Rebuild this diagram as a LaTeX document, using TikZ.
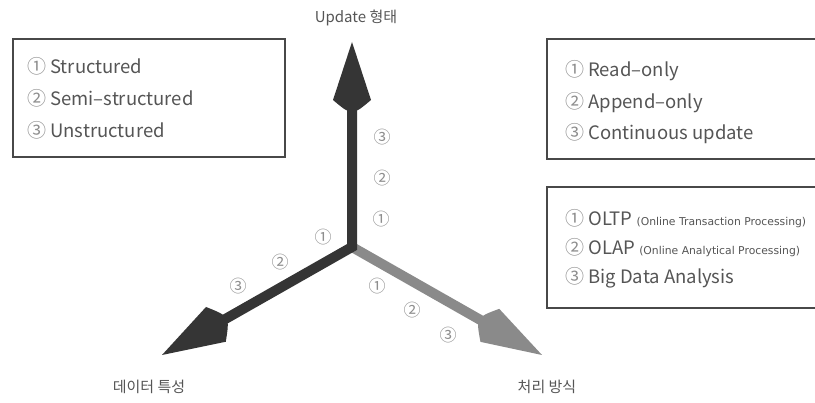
\documentclass[tikz,border=0pt]{standalone}
\usepackage{fontspec}
\setmainfont{Noto Sans CJK KR}
\newfontfamily\notefont{DejaVu Sans}
\usetikzlibrary{calc}

\definecolor{framegray}{HTML}{484848}
\definecolor{txtgray}{HTML}{555555}
\definecolor{numgray}{HTML}{8E8E8E}
\definecolor{axisdark}{HTML}{353535}
\definecolor{axislight}{HTML}{8A8A8A}

\newcommand{\circnum}[1]{{\fontsize{19}{19}\selectfont\color{numgray}#1}}
\newcommand{\smallnote}[1]{{\notefont\fontsize{10.8}{12}\selectfont #1}}

\tikzset{
  framebox/.style={draw=framegray, line width=2.5pt},
  itemtext/.style={anchor=base west, inner sep=0pt, text=txtgray,
    font=\fontsize{18.5}{22}\selectfont},
  numtext/.style={inner sep=0pt, text=numgray, font=\fontsize{17}{19}\selectfont},
  axislabel/.style={inner sep=0pt, text=txtgray, font=\fontsize{15}{18}\selectfont},
  shaft/.style={line width=10pt, line join=miter},
}

\begin{document}
\begin{tikzpicture}[x=1pt,y=-1pt]
    \fill[white] (0,0) rectangle (815,403);
    \useasboundingbox (0,0) rectangle (815,403);
    % data types
    \draw[framebox] (13,39) rectangle (285,157);
    \node[itemtext] (structured) at (27,73.5) {\circnum{①} Structured};
    \node[itemtext] (semi) at (27,105.5) {\circnum{②} Semi--structured};
    \node[itemtext] (unstructured) at (27,137.5) {\circnum{③} Unstructured};
    % update types
    \draw[framebox] (815,39) -- (547,39) -- (547,159) -- (815,159);
    \node[itemtext] (readonly) at (565,76.5) {\circnum{①} Read--only};
    \node[itemtext] (appendonly) at (565,108.5) {\circnum{②} Append--only};
    \node[itemtext] (continuous) at (565,139.5) {\circnum{③} Continuous update};
    % processing types
    \draw[framebox] (815,187) -- (547,187) -- (547,308) -- (815,308);
    \node[itemtext] (oltp) at (565,225.5) {\circnum{①} OLTP \smallnote{(Online Transaction Processing)}};
    \node[itemtext] (olap) at (565,254.5) {\circnum{②} OLAP \smallnote{(Online Analytical Processing)}};
    \node[itemtext] (bigdata) at (565,283.5) {\circnum{③} Big Data Analysis};
    % axes
    \coordinate (origin) at (352,247);
    \coordinate (uptip) at (352,42);
    \coordinate (lefttip) at (162,355);
    \coordinate (righttip) at (542,355);
    \coordinate (upbase) at ($(uptip)!58pt!(origin)$);
    \coordinate (leftbase) at ($(lefttip)!62pt!(origin)$);
    \coordinate (rightbase) at ($(righttip)!60pt!(origin)$);
    % processing axis (light)
    \draw[shaft, axislight] (origin) -- (rightbase);
    \fill[axislight] ($(rightbase)!19pt!90:(righttip)$) -- (righttip)
      -- ($(rightbase)!19pt!-90:(righttip)$)
      .. controls ($(rightbase)!-16pt!(righttip)$) .. cycle;
    % update and data axes (dark)
    \draw[shaft, axisdark] (upbase) -- (origin) -- (leftbase);
    \fill[axisdark] ($(upbase)!19pt!90:(uptip)$) -- (uptip)
      -- ($(upbase)!19pt!-90:(uptip)$)
      .. controls ($(upbase)!-16pt!(uptip)$) .. cycle;
    \fill[axisdark] ($(leftbase)!20pt!90:(lefttip)$) -- (lefttip)
      -- ($(leftbase)!20pt!-90:(lefttip)$)
      .. controls ($(leftbase)!-16pt!(lefttip)$) .. cycle;
    % axis titles
    \node[axislabel] (updatelbl) at (356,18) {Update 형태};
    \node[axislabel] (datalbl) at (149,387) {데이터 특성};
    \node[axislabel] (proclbl) at (547,387) {처리 방식};
    % steps on the axes
    \node[numtext] (up1) at (381,219) {①};
    \node[numtext] (up2) at (382,178) {②};
    \node[numtext] (up3) at (382,137) {③};
    \node[numtext] (left1) at (323,237) {①};
    \node[numtext] (left2) at (280,262) {②};
    \node[numtext] (left3) at (238,286) {③};
    \node[numtext] (right1) at (377,286) {①};
    \node[numtext] (right2) at (412,310) {②};
    \node[numtext] (right3) at (448,335) {③};
\end{tikzpicture}
\end{document}
